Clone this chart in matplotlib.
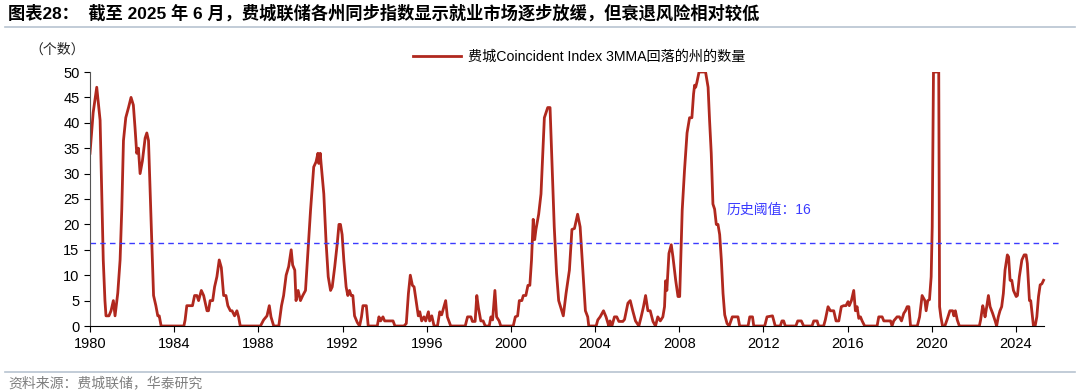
import matplotlib
matplotlib.use('Agg')
import matplotlib.pyplot as plt
import numpy as np

# 数据：年份(小数) 与 回落州数量
years = [1980.0, 1980.15, 1980.32, 1980.48, 1980.56, 1980.63, 1980.71, 1980.76, 1980.9, 1981.0,
         1981.11, 1981.19, 1981.32, 1981.43, 1981.51, 1981.59, 1981.7, 1981.83, 1981.95, 1982.06,
         1982.14, 1982.22, 1982.3, 1982.38, 1982.49, 1982.62, 1982.7, 1982.78, 1982.86, 1982.94,
         1983.02, 1983.13, 1983.22, 1983.29, 1983.38, 1984.46, 1984.52, 1984.6, 1984.87, 1984.97,
         1985.08, 1985.16, 1985.29, 1985.4, 1985.56, 1985.63, 1985.71, 1985.83, 1985.92, 1986.03,
         1986.14, 1986.24, 1986.35, 1986.46, 1986.55, 1986.67, 1986.75, 1986.87, 1986.98, 1987.06,
         1987.14, 1988.1, 1988.25, 1988.41, 1988.52, 1988.6, 1988.73, 1988.97, 1989.1, 1989.2,
         1989.32, 1989.44, 1989.56, 1989.63, 1989.73, 1989.79, 1989.89, 1990.0, 1990.11, 1990.24,
         1990.35, 1990.48, 1990.63, 1990.74, 1990.83, 1990.87, 1990.94, 1990.98, 1991.11, 1991.22,
         1991.32, 1991.43, 1991.51, 1991.63, 1991.75, 1991.83, 1991.9, 1991.98, 1992.06, 1992.17,
         1992.25, 1992.33, 1992.41, 1992.49, 1992.57, 1992.7, 1992.81, 1992.9, 1992.97, 1993.13,
         1993.22, 1993.65, 1993.73, 1993.81, 1993.92, 1994.0, 1994.4, 1994.49, 1994.92, 1995.03,
         1995.13, 1995.22, 1995.32, 1995.4, 1995.51, 1995.6, 1995.67, 1995.76, 1995.87, 1995.95,
         1996.08, 1996.14, 1996.24, 1996.35, 1996.51, 1996.62, 1996.71, 1996.83, 1996.9, 1996.98,
         1997.14, 1997.83, 1997.94, 1998.1, 1998.17, 1998.3, 1998.38, 1998.46, 1998.57, 1998.68,
         1998.78, 1998.97, 1999.05, 1999.13, 1999.24, 1999.32, 1999.44, 1999.52, 2000.11, 2000.21,
         2000.32, 2000.4, 2000.52, 2000.59, 2000.71, 2000.81, 2000.9, 2000.98, 2001.06, 2001.13,
         2001.19, 2001.32, 2001.43, 2001.59, 2001.75, 2001.86, 2001.95, 2002.06, 2002.17, 2002.27,
         2002.38, 2002.49, 2002.62, 2002.78, 2002.9, 2003.02, 2003.17, 2003.29, 2003.41, 2003.54,
         2003.65, 2003.7, 2004.05, 2004.13, 2004.24, 2004.4, 2004.52, 2004.65, 2004.71, 2004.8,
         2004.92, 2005.03, 2005.13, 2005.32, 2005.4, 2005.56, 2005.67, 2005.79, 2005.92, 2006.08,
         2006.19, 2006.3, 2006.4, 2006.51, 2006.62, 2006.75, 2006.87, 2006.98, 2007.1, 2007.22,
         2007.3, 2007.35, 2007.41, 2007.51, 2007.62, 2007.7, 2007.83, 2007.94, 2008.02, 2008.06,
         2008.14, 2008.25, 2008.37, 2008.49, 2008.6, 2008.68, 2008.73, 2008.78, 2008.84, 2008.94,
         2009.25, 2009.37, 2009.44, 2009.52, 2009.6, 2009.68, 2009.76, 2009.84, 2009.92, 2010.0,
         2010.08, 2010.16, 2010.27, 2010.37, 2010.52, 2010.79, 2010.87, 2011.27, 2011.35, 2011.48,
         2011.54, 2012.06, 2012.17, 2012.43, 2012.56, 2012.8, 2012.88, 2012.96, 2013.04, 2013.54,
         2013.63, 2013.8, 2013.91, 2014.31, 2014.39, 2014.55, 2014.62, 2014.86, 2014.94, 2015.07,
         2015.18, 2015.34, 2015.45, 2015.58, 2015.7, 2015.81, 2015.92, 2016.02, 2016.08, 2016.18,
         2016.29, 2016.37, 2016.45, 2016.53, 2016.61, 2016.69, 2016.81, 2017.4, 2017.48, 2017.64,
         2017.72, 2018.04, 2018.11, 2018.19, 2018.35, 2018.46, 2018.56, 2018.67, 2018.75, 2018.83,
         2018.91, 2018.99, 2019.31, 2019.42, 2019.54, 2019.67, 2019.73, 2019.81, 2019.89, 2019.97,
         2020.02, 2020.08, 2020.33, 2020.37, 2020.43, 2020.51, 2020.62, 2020.73, 2020.86, 2020.99,
         2021.05, 2021.12, 2021.21, 2021.31, 2022.26, 2022.32, 2022.42, 2022.48, 2022.53, 2022.61,
         2022.69, 2022.77, 2022.89, 2023.01, 2023.08, 2023.16, 2023.24, 2023.32, 2023.4, 2023.48,
         2023.59, 2023.65, 2023.72, 2023.8, 2023.88, 2024.01, 2024.07, 2024.16, 2024.28, 2024.39,
         2024.48, 2024.54, 2024.64, 2024.7, 2024.78, 2024.83, 2024.91, 2024.99, 2025.07, 2025.15,
         2025.23, 2025.31]

states = [34, 42, 47, 40.5, 26, 13, 5, 2, 2, 3,
          5, 2, 6.5, 13, 23, 36.5, 41, 43, 45, 43.5,
          39, 34, 35, 30, 32.5, 37, 38, 36.5, 26, 16,
          6, 4, 2, 2, 0, 0, 1.2, 4, 4, 6,
          6, 5, 7, 6, 3, 3, 5, 5, 7.7, 9.7,
          13, 11.5, 6, 6, 4, 3, 3, 2, 3, 1.8,
          0, 0, 1.2, 2, 4, 1.8, 0, 0, 4, 6,
          10, 11.7, 15, 12, 11, 5, 7, 5, 6, 7,
          14.3, 22.8, 31.3, 32.3, 34, 32, 34, 32, 26, 16.3,
          9.7, 7, 7.7, 11.7, 16.3, 20, 20, 18, 13, 7.7,
          6, 7, 6, 6, 2, 0.7, 0, 1.8, 4, 4,
          0, 0, 1.8, 1, 1.8, 1, 1, 0, 0, 0.5,
          6.4, 10, 8, 7.7, 4.5, 2, 2.8, 1, 1.8, 1,
          2.8, 1, 2, 0, 0, 2.8, 2.2, 4, 5, 1.8,
          0, 0, 1.8, 1.8, 0.9, 0.9, 6, 3.5, 1, 1,
          0, 0, 1.8, 1.2, 7, 1.8, 1, 0, 0, 1.8,
          2, 5, 5, 6, 6, 8, 8, 13, 21, 17,
          19, 22, 26, 41, 43, 43, 32.6, 19.5, 10.4, 5,
          3.5, 2, 6.4, 11, 19, 19.2, 22, 19.5, 11.7, 3,
          1.8, 0, 0, 1.2, 1.8, 3, 1.8, 0, 1, 0,
          1.8, 1.8, 0.9, 0.9, 1.3, 4.5, 5, 3, 1, 0,
          1.8, 3.8, 6, 3, 3, 0.9, 0, 1.8, 1, 1.8,
          3.8, 8.9, 7, 14.3, 16, 13.6, 9, 5.8, 5.8, 11.7,
          22.8, 30.7, 38, 41, 41, 45.7, 47.4, 47, 48, 50,
          50, 47, 40.5, 34, 24, 23, 20, 20, 18, 13,
          6.4, 2.2, 0.5, 0, 1.8, 1.8, 0, 0, 1.8, 1.8,
          0, 0, 1.8, 2, 0, 0, 1, 1, 0, 0,
          1, 1, 0, 0, 1, 1, 0, 0, 1.2, 3.8,
          3, 3, 1, 1, 3.8, 4, 4, 4.8, 4, 5,
          7, 3, 3.8, 1.5, 1.8, 1, 0, 0, 1.8, 1.8,
          1, 1, 0, 1, 1.8, 1.8, 1, 2.5, 3, 3.8,
          3.8, 0, 0, 1.8, 6, 5, 3, 5, 5.2, 9.7,
          19.5, 50, 50, 3.8, 1.8, 0, 0, 1.3, 3, 3,
          2, 3, 1.2, 0, 0, 1.2, 4, 3, 1.8, 3.8,
          6, 3.8, 2.5, 1, 0, 1.8, 3, 3.8, 6.4, 11,
          14, 13.6, 9, 9, 7, 5.8, 6, 9.7, 13, 14,
          14, 12.3, 5, 5, 1.8, 0, 0, 1.8, 5.8, 8.1,
          8.3, 9]

threshold = 16.3
year_ticks = list(range(1980, 2025, 4))
y_ticks = list(range(0, 51, 5))

title = '图表28：  截至 2025 年 6 月，费城联储各州同步指数显示就业市场逐步放缓，但衰退风险相对较低'
legend_label = '费城Coincident Index 3MMA回落的州的数量'
source = '资料来源：费城联储，华泰研究'

fonts = ['Liberation Sans', 'Noto Sans CJK SC', 'DejaVu Sans']
plt.rcParams['font.family'] = fonts

fig = plt.figure(figsize=(10.8, 3.9), dpi=100)
ax = fig.add_axes([90 / 1080, 1 - 326 / 390, 972 / 1080, 254 / 390])

ax.plot(years, states, color='#b0281e', lw=2.0, label=legend_label, solid_joinstyle='round')
ax.axhline(threshold, color='#3b3bff', lw=1.0, ls=(0, (4, 3)))
ax.text(2010.25, 22.8, '历史阈值：16', color='#3b3bff', fontsize=10, va='center', ha='left')

ax.set_xlim(1980, 1980 + 972 / 21.045)
ax.set_ylim(0, 50)
ax.set_xticks(year_ticks)
ax.set_yticks(y_ticks)
ax.tick_params(axis='both', labelsize=10.5, direction='out', length=4, width=0.8, colors='black')
ax.tick_params(axis='x', pad=4)
ax.spines['top'].set_visible(False)
ax.spines['right'].set_visible(False)
ax.spines['bottom'].set_bounds(1980, 2025.35)
ax.spines['left'].set_color('#555555')

ax.legend(loc='center', bbox_to_anchor=(0.503, 1.059), frameon=False, fontsize=10.2,
          handlelength=3.4, handletextpad=0.5, borderaxespad=0)

fig.text(57 / 1080, 1 - 50 / 390, '（个数）', fontsize=10, ha='center', va='center', color='#222222')

fig.text(8 / 1080, 1 - 13 / 390, title, fontsize=12.4, fontweight='bold', ha='left', va='center')
fig.add_artist(plt.Line2D([0.005, 0.995], [1 - 27 / 390, 1 - 27 / 390], color='#b7c3d1', lw=1.2))
fig.add_artist(plt.Line2D([0.005, 0.995], [1 - 372 / 390, 1 - 372 / 390], color='#b7c3d1', lw=1.2))
fig.text(8 / 1080, 1 - 383 / 390, source, fontsize=10, color='#7f7f7f', ha='left', va='center')

fig.savefig('out.png', dpi=100)
